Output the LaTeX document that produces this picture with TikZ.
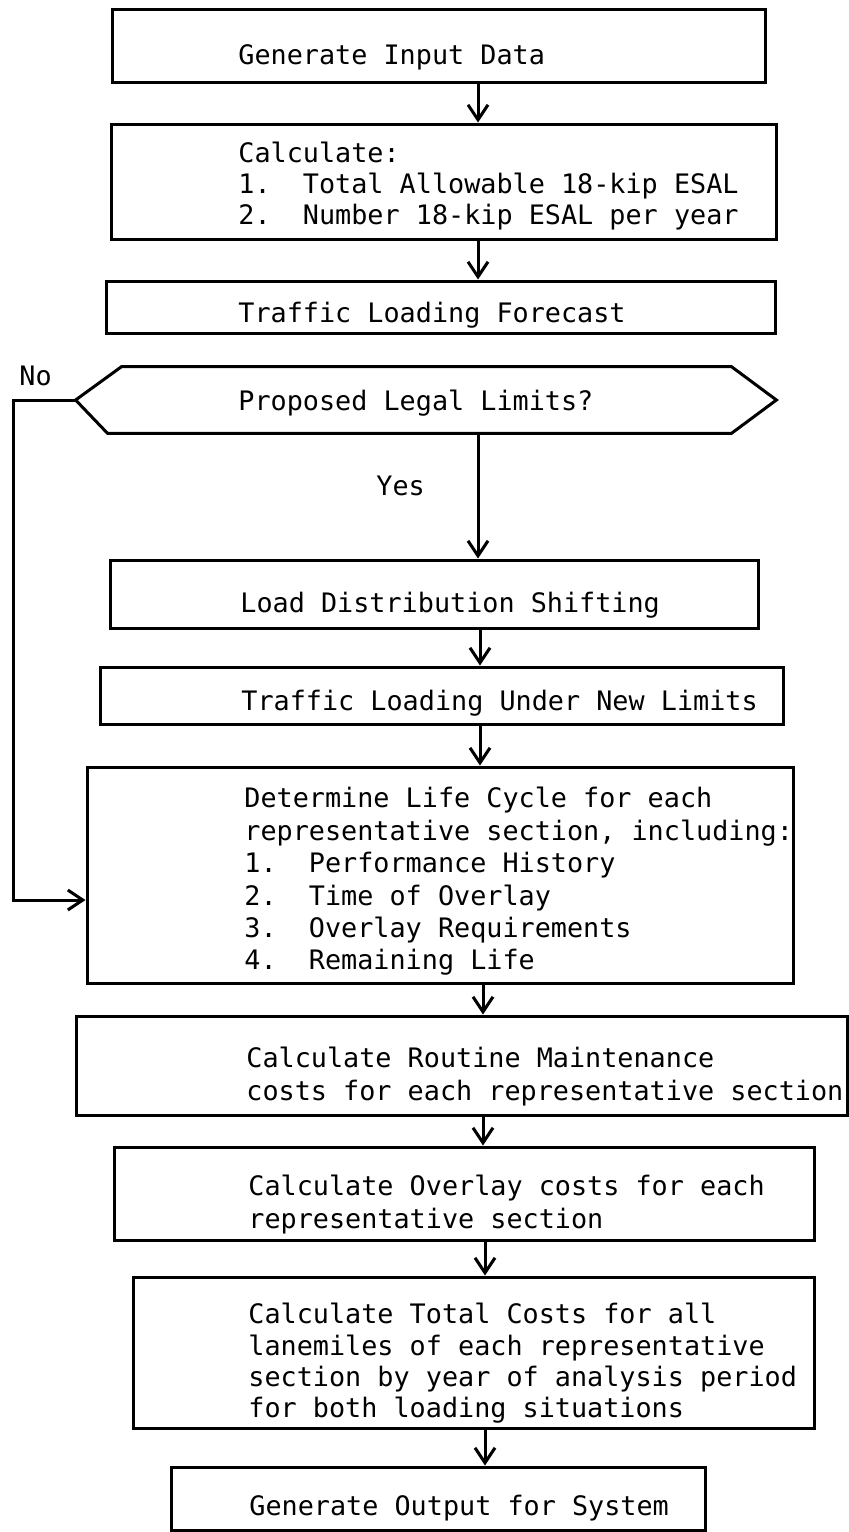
\documentclass[tikz,border=0pt]{standalone}
\usepackage{fontspec}
\setmainfont{DejaVu Sans Mono}
\usetikzlibrary{arrows.meta,fit,calc}
\begin{document}
\begin{tikzpicture}[x=0.5pt,y=-0.5pt,
  box/.style={draw, line width=1.5pt, inner sep=0pt},
  txt/.style={inner sep=0pt, align=left, anchor=north west},
  one/.style={inner sep=0pt, anchor=base west},
  arr/.style={line width=1.5pt, -{Straight Barb[length=7.5pt,width=10pt,line width=1.5pt]}}]
\useasboundingbox (0,0) rectangle (849,1532);
\fontsize{13.4}{15.5}\selectfont
% boxes
\node[box, fit={(112,9) (765,82)}] (b1) {};
\node[box, fit={(111,124) (776,239)}] (b2) {};
\node[box, fit={(106,281) (775,333)}] (b3) {};
\node[fit={(76,367) (776,433)}, inner sep=0pt] (dec) {};
\draw[line width=1.5pt] (dec.west) -- ($(dec.north west)+(46,0)$) -- ($(dec.north east)+(-45,0)$)
  -- (dec.east) -- ($(dec.south east)+(-45,0)$) -- ($(dec.south west)+(32,0)$) -- cycle;
\node[box, fit={(110,560) (758,628)}] (b4) {};
\node[box, fit={(100,667) (783,724)}] (b5) {};
\node[box, fit={(87,767) (793,983)}] (b6) {};
\node[box, fit={(76,1016) (847,1115)}] (b7) {};
\node[box, fit={(114,1147) (814,1240)}] (b8) {};
\node[box, fit={(133,1277) (814,1428)}] (b9) {};
\node[box, fit={(171,1467) (705,1530)}] (b10) {};
% texts
\node[one] (t1) at (238,64) {Generate Input Data};
\node[txt, font=\fontsize{13.4}{15.5}\selectfont] (t2) at (238,142) {Calculate:\\1.\ \ Total Allowable 18-kip ESAL\\2.\ \ Number 18-kip ESAL per year};
\node[one] (t3) at (238,322) {Traffic Loading Forecast};
\node[one] (t4) at (238,410) {Proposed Legal Limits?};
\node[one] (tno) at (19,385) {No};
\node[one] (tyes) at (376,495) {Yes};
\node[one] (t5) at (240,612) {Load Distribution Shifting};
\node[one] (t6) at (241,710) {Traffic Loading Under New Limits};
\node[txt, font=\fontsize{13.4}{16.2}\selectfont] (t7) at (244,787) {Determine Life Cycle for each\\representative section, including:\\1.\ \ Performance History\\2.\ \ Time of Overlay\\3.\ \ Overlay Requirements\\4.\ \ Remaining Life};
\node[txt, font=\fontsize{13.4}{16.5}\selectfont] (t8) at (246,1047) {Calculate Routine Maintenance\\costs for each representative section};
\node[txt, font=\fontsize{13.4}{16.5}\selectfont] (t9) at (248,1175) {Calculate Overlay costs for each\\representative section};
\node[txt, font=\fontsize{13.4}{15.6}\selectfont] (t10) at (248,1303) {Calculate Total Costs for all\\lanemiles of each representative\\section by year of analysis period\\for both loading situations};
\node[one] (t11) at (249,1515) {Generate Output for System};
% arrow columns
\coordinate (ax) at (478,0);
\coordinate (bx) at (480,0);
\coordinate (cx) at (483,0);
\coordinate (dx) at (485,0);
\coordinate (nc) at (13,400);
\coordinate (ny) at (0,900);
\draw[arr] (b1.south -| ax) -- (b2.north -| ax);
\draw[arr] (b2.south -| ax) -- (b3.north -| ax);
\draw[arr] (dec.south -| ax) -- (b4.north -| ax);
\draw[arr] (b4.south -| bx) -- (b5.north -| bx);
\draw[arr] (b5.south -| bx) -- (b6.north -| bx);
\draw[arr] (b6.south -| cx) -- (b7.north -| cx);
\draw[arr] (b7.south -| cx) -- (b8.north -| cx);
\draw[arr] (b8.south -| dx) -- (b9.north -| dx);
\draw[arr] (b9.south -| dx) -- (b10.north -| dx);
\draw[arr] (dec.west) -- (nc) |- (b6.west |- ny);
\end{tikzpicture}
\end{document}
